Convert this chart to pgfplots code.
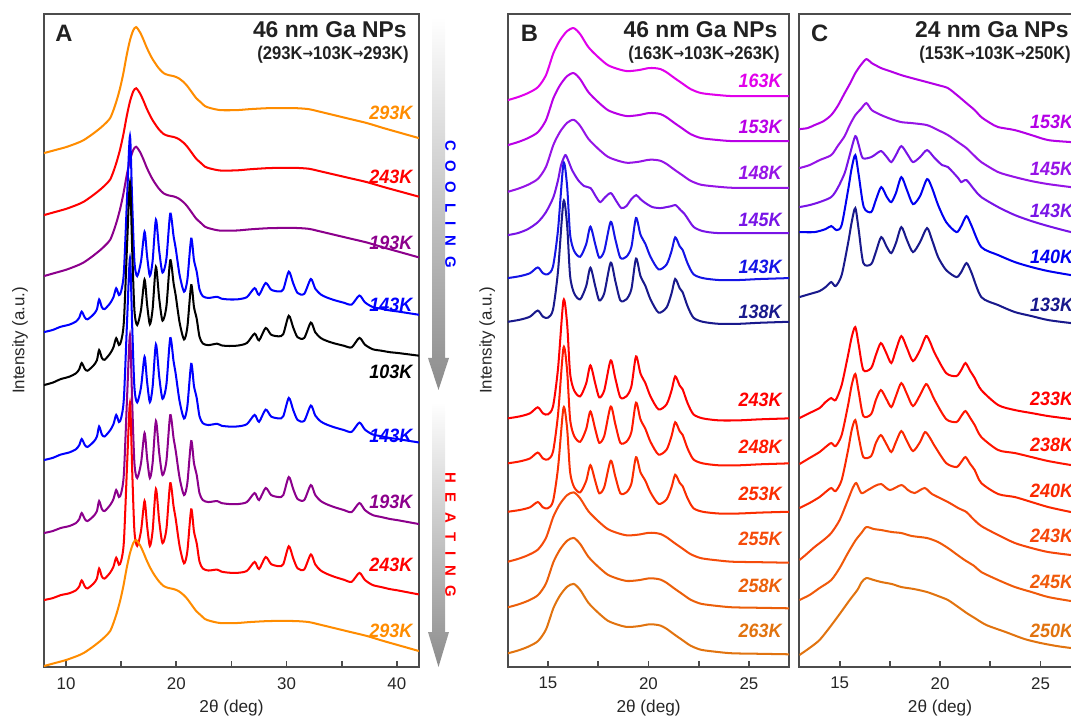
\documentclass[border=0pt]{standalone}
\usepackage{pgfplots}
\pgfplotsset{compat=1.18}
\usepackage{pgfplotstable}
\usepackage{fontspec}
\setmainfont{Liberation Sans}
\newfontfamily\djv{DejaVu Sans}

% colours
\definecolor{aOr}{RGB}{255,140,0}
\definecolor{aRd}{RGB}{255,0,0}
\definecolor{aPu}{RGB}{140,0,140}
\definecolor{aBl}{RGB}{0,0,255}
\definecolor{b163}{RGB}{225,0,235}
\definecolor{b153}{RGB}{185,0,230}
\definecolor{b148}{RGB}{150,20,230}
\definecolor{b145}{RGB}{120,20,230}
\definecolor{b143}{RGB}{20,20,230}
\definecolor{b138}{RGB}{25,25,140}
\definecolor{b243}{RGB}{255,0,0}
\definecolor{b248}{RGB}{255,25,0}
\definecolor{b253}{RGB}{250,45,0}
\definecolor{b255}{RGB}{245,75,10}
\definecolor{b258}{RGB}{235,95,10}
\definecolor{b263}{RGB}{225,115,15}
\definecolor{c153}{RGB}{180,0,230}
\definecolor{c145}{RGB}{150,20,230}
\definecolor{c143}{RGB}{120,20,230}
\definecolor{c140}{RGB}{0,0,240}
\definecolor{c133}{RGB}{25,25,140}
\definecolor{c233}{RGB}{255,0,0}
\definecolor{c238}{RGB}{255,20,0}
\definecolor{c240}{RGB}{250,40,0}
\definecolor{c243}{RGB}{245,70,10}
\definecolor{c245}{RGB}{240,90,10}
\definecolor{c250}{RGB}{225,115,15}

% panel A: liquid-like profile (height above left end, px)
\pgfplotstableread{
x h
8.0 0
9.0 3
10.0 6
11.0 10
11.6 13
12.4 19
13.1 25
13.6 30
14.0 35
14.3 43
14.6 53
14.9 65
15.2 80
15.5 98
15.8 113
16.1 123
16.36 126
16.7 121
17.0 114
17.3 106
17.6 99
17.9 93
18.4 85
18.85 80
19.3 78
19.75 77
20.2 75
20.67 71
21.0 67
21.4 61
21.8 55
22.2 51
22.6 47
23.1 45
24.0 43
25.5 43
26.7 44
28.5 45
30.7 45
32.0 44
32.8 42
34.3 38
35.8 34
37.3 30
38.8 25
40.4 20
42.0 15
}\liqA

% panel A: crystalline profile
\pgfplotstableread{
x h
8.0 0
8.8 2
9.5 5
10.3 7
10.9 10
11.2 14
11.42 20
11.7 14
11.95 12
12.5 17
12.8 22
13.0 32
13.25 24
13.5 22
14.0 28
14.3 34
14.55 43
14.8 36
15.0 40
15.25 60
15.55 140
15.8 198
16.0 130
16.2 70
16.45 55
16.8 70
17.12 100
17.35 75
17.6 55
17.85 70
18.15 112
18.45 80
18.75 58
19.1 72
19.45 118
19.75 95
19.95 82
20.3 55
20.7 38
21.0 50
21.35 92
21.6 70
21.85 58
22.1 40
22.4 33
22.9 31
23.7 32
24.1 30
24.8 29
25.6 29
26.4 31
27.1 40
27.5 33
28.1 45
28.6 38
29.3 36
29.7 38
30.2 56
30.6 44
31.0 34
31.6 33
32.2 48
32.6 38
33.1 32
33.6 29
34.3 26
35.2 23
35.9 21
36.6 30
37.1 23
37.8 18
38.6 16
39.4 14
40.0 13
41.0 11
42.0 9
}\crA

% panel B: liquid-like profile
\pgfplotstableread{
x h
13.0 0
13.5 3
14.0 7
14.5 13
14.9 25
15.27 47
15.6 60
15.95 69
16.28 72
16.6 66
17.01 53
17.5 43
17.98 35
18.5 31
18.95 29
19.5 30
20.0 32
20.31 32
20.6 31
20.89 28
21.3 22
21.66 17
22.1 11
22.63 7
23.5 5
24.2 4
25.5 4
27.0 4
}\liqB

% panel B: crystalline profile
\pgfplotstableread{
x h
13.0 0
13.6 2
14.1 5
14.49 11
14.75 5
15.0 4
15.25 12
15.5 50
15.77 118
15.95 95
16.1 45
16.3 28
16.6 22
16.9 35
17.11 53
17.35 35
17.55 21
17.8 28
18.12 58
18.35 40
18.6 21
18.9 22
19.15 32
19.38 62
19.6 45
19.85 35
20.1 22
20.5 9
20.9 14
21.15 28
21.33 42
21.55 33
21.7 29
21.95 15
22.24 4
22.7 0
23.5 -2
24.5 -2
25.5 -1
27.0 0
}\crB

% panel B: 145K (pixel rows)
\pgfplotstableread{
x y
13.0 235
13.5 233
14.0 229
14.5 222
14.9 212
15.27 197
15.5 180
15.65 165
15.86 155
16.0 160
16.2 170
16.5 180
16.8 186
17.12 188
17.4 197
17.6 202
17.85 197
18.13 193
18.4 201
18.65 208
18.9 206
19.15 199
19.39 195
19.6 199
19.85 203
20.2 207
20.6 208
20.9 207
21.15 206
21.35 205
21.6 210
21.8 214
22.0 220
22.26 227
22.7 231
23.5 233
25.5 233
27.0 233
}\bA

% panel C curves (pixel rows)
\pgfplotstableread{
x y
13.0 129
13.4 128
13.75 125
14.2 121
14.58 115
14.9 106
15.25 93
15.5 84
15.78 73
16.05 65
16.33 59
16.6 63
17.07 68
17.5 71
18.07 75
18.6 78
19.35 82
19.9 85
20.39 88
20.9 96
21.31 103
21.72 110
22.05 117
22.5 123
22.89 127
23.72 130
24.55 135
25.38 140
26.52 142
27.0 143
}\cA
\pgfplotstableread{
x y
13.0 168
13.5 165
14.0 160
14.58 155
14.9 146
15.25 136
15.5 125
15.78 115
16.05 109
16.33 103
16.6 110
17.07 115
17.57 119
18.07 122
18.6 123
19.35 125
19.9 130
20.39 135
20.89 142
21.31 148
21.72 156
22.05 162
22.89 172
23.72 177
24.55 181
25.38 184
26.52 187
27.0 188
}\cB
\pgfplotstableread{
x y
13.0 207
13.5 205
14.0 202
14.58 197
14.9 188
15.25 173
15.5 155
15.78 136
15.95 145
16.15 158
16.57 157
16.8 154
17.07 151
17.35 157
17.57 162
17.8 155
18.07 146
18.4 155
18.65 162
19.0 157
19.35 150
19.73 158
20.1 165
20.39 167
20.9 178
21.05 182
21.31 180
21.72 190
22.05 197
22.89 207
23.72 215
24.55 221
25.38 226
26.52 232
27.0 233
}\cC
\pgfplotstableread{
x y
13.0 232
13.75 232
14.3 229
14.58 226
14.85 230
15.1 225
15.42 190
15.6 168
15.78 155
15.95 175
16.2 207
16.57 212
16.8 200
17.07 187
17.35 197
17.57 202
17.8 193
18.07 177
18.35 190
18.65 204
19.0 196
19.35 179
19.6 188
19.9 205
20.3 222
20.81 232
21.05 226
21.31 216
21.55 225
22.05 247
22.89 255
23.72 262
24.55 267
25.38 271
26.52 275
27.0 276
}\cD
\pgfplotstableread{
x y
13.0 297
13.5 294
14.0 291
14.3 287
14.58 282
14.8 286
15.1 275
15.42 243
15.6 222
15.78 208
15.95 230
16.18 263
16.57 264
16.8 252
17.07 237
17.35 247
17.57 253
17.8 243
18.07 227
18.35 240
18.65 252
19.0 242
19.35 228
19.6 240
19.9 257
20.3 270
20.81 277
21.05 272
21.31 263
21.55 272
22.05 297
22.89 305
23.72 312
24.55 316
25.38 320
26.52 323
27.0 324
}\cE
\pgfplotstableread{
x y
13.0 418
13.5 413
14.0 408
14.3 402
14.58 398
14.8 400
15.1 385
15.42 355
15.6 337
15.78 327
15.95 345
16.18 370
16.57 368
16.8 355
17.05 343
17.3 352
17.57 363
17.8 350
18.07 336
18.35 348
18.65 361
19.0 350
19.3 336
19.5 342
19.73 353
20.3 373
20.81 376
21.05 370
21.26 363
21.5 371
21.72 378
22.05 390
22.89 405
23.72 410
24.55 413
25.38 416
26.52 419
27.0 420
}\cF
\pgfplotstableread{
x y
13.0 464
13.5 458
14.0 452
14.3 447
14.58 443
14.8 446
15.1 435
15.42 405
15.6 385
15.78 374
15.95 392
16.18 416
16.57 414
16.8 400
17.05 390
17.3 398
17.57 407
17.8 396
18.07 383
18.35 394
18.65 406
19.0 395
19.3 384
19.5 390
19.73 400
20.3 419
20.81 422
21.05 416
21.26 411
21.5 418
21.72 425
22.05 437
22.89 450
23.72 453
24.55 457
25.38 461
26.52 465
27.0 466
}\cG
\pgfplotstableread{
x y
13.0 508
13.5 503
14.0 497
14.3 492
14.58 488
14.8 491
15.1 480
15.42 450
15.6 430
15.78 420
15.95 437
16.18 457
16.57 456
16.8 443
17.05 435
17.3 443
17.57 452
17.8 442
18.07 431
18.35 441
18.65 451
19.0 442
19.25 432
19.5 438
19.73 446
20.3 463
20.81 467
21.05 462
21.26 457
21.5 464
21.72 470
22.05 483
22.89 494
23.72 497
24.55 502
25.38 507
26.52 512
27.0 513
}\cH
\pgfplotstableread{
x y
13.0 560
13.3 555
13.75 547
14.2 540
14.58 533
15.0 520
15.41 500
15.65 488
15.83 483
16.08 493
16.4 490
16.75 486
17.07 484
17.5 490
18.07 485
18.4 490
18.73 493
19.23 488
19.6 494
20.39 502
20.9 508
21.31 512
21.6 518
22.05 526
22.89 535
23.72 543
24.55 548
25.38 552
26.52 555
27.0 556
}\cI
\pgfplotstableread{
x y
13.0 600
13.5 595
14.0 588
14.58 580
15.0 568
15.41 553
15.8 540
16.08 533
16.33 527
16.7 529
17.07 530
17.6 532
18.07 533
18.6 536
19.35 538
19.9 542
20.39 548
20.8 554
21.22 560
21.7 566
22.05 572
22.89 580
23.72 587
24.55 592
25.38 597
26.52 601
27.0 602
}\cJ
\pgfplotstableread{
x y
13.0 655
13.5 648
14.0 640
14.52 627
15.0 614
15.5 600
15.88 590
16.1 582
16.33 578
16.7 580
17.07 582
17.6 584
18.07 587
18.7 589
19.35 592
19.9 596
20.39 600
20.9 607
21.32 613
21.72 618
22.3 625
23.26 632
24.2 639
25.0 643
25.8 646
26.52 648
27.0 649
}\cK

% stacked profile: colour, table, left offset (px), scale, tilt, x0
\newcommand{\prof}[6]{\addplot[color=#1] table[x=x, y expr={#3-(#4)*\thisrow{h}-(#5)*(\thisrow{x}-#6)}] {#2};}
\newcommand{\raw}[2]{\addplot[color=#1] table[x=x, y=y] {#2};}
\newcommand{\tl}[4]{\node[anchor=base east, inner sep=0, text=#1, font=\bfseries\itshape\fontsize{11}{12}\selectfont, xscale=0.93] at (#2,#3) {#4};}
\newcommand{\sarr}{{\djv\fontsize{8}{8}\selectfont\raisebox{0.2ex}{→}}}

\pgfplotsset{panel/.style={
  anchor=south west, scale only axis, height=13.06cm,
  ymin=14, ymax=667, y dir=reverse, ytick=\empty,
  xtick pos=left, tick align=inside,
  major tick length=0.12cm, minor tick length=0.12cm,
  axis line style={black!70, line width=1.1pt},
  tick style={black!70, line width=1pt},
  ticklabel style={font=\fontsize{9.6}{10}\selectfont, text=black!85},
  xticklabel style={yshift=-0.08cm},
  /pgf/number format/assume math mode=true,
  every axis plot/.append style={line width=1.15pt, mark=none, smooth, tension=0.45},
}}

\begin{document}
\begin{tikzpicture}[x=0.02cm, y=0.02cm]
\path[use as bounding box] (0,0) rectangle (1071,720);
\clip (0,0) rectangle (1071,720);

% gradient arrows
\shade[top color=white, bottom color=black!45] (432,703) -- (445,703) -- (445,362) -- (449,362) -- (438.5,330) -- (428,362) -- (432,362) -- cycle;
\shade[top color=white, bottom color=black!45] (432,318) -- (445,318) -- (445,88) -- (449,88) -- (438.5,53) -- (428,88) -- (432,88) -- cycle;
\node[rotate=-90, inner sep=0, text=blue, font=\bfseries\fontsize{8.5}{9}\selectfont] at (450.5,516) {C\kern5.5pt O\kern5.5pt O\kern5.5pt L\kern5.5pt I\kern5.5pt N\kern5.5pt G};
\node[rotate=-90, inner sep=0, text=red, font=\bfseries\fontsize{8.5}{9}\selectfont] at (450.5,185) {H\kern5.5pt E\kern5.5pt A\kern5.5pt T\kern5.5pt I\kern5.5pt N\kern5.5pt G};

% panel A
\begin{axis}[panel, at={(0.88cm,1.06cm)}, width=7.5cm, xmin=8, xmax=42,
  xtick={10,20,30,40}, minor xtick={15,25,35}]
\prof{aOr}{\liqA}{153}{1}{0}{8}
\prof{aRd}{\liqA}{215}{1}{0.1}{8}
\prof{aPu}{\liqA}{276}{1.02}{0.1}{8}
\prof{aBl}{\crA}{332}{0.98}{0.25}{8}
\prof{black}{\crA}{385}{1}{0.6}{8}
\prof{aBl}{\crA}{460}{1.01}{0.25}{8}
\prof{aPu}{\crA}{533}{1}{0}{8}
\prof{aRd}{\crA}{600}{1}{-0.1}{8}
\prof{aOr}{\liqA}{666}{1}{0}{8}
\end{axis}

% panel B
\begin{axis}[panel, at={(10.158cm,1.06cm)}, width=5.628cm, xmin=13, xmax=27,
  xtick={15,20,25}, minor xtick={17.5,22.5}]
\prof{b163}{\liqB}{100}{1}{0}{13}
\prof{b153}{\liqB}{145}{1}{0}{13}
\prof{b148}{\liqB}{191.7}{1}{0}{13}
\raw{b145}{\bA}
\prof{b143}{\crB}{278}{0.97}{0}{13}
\prof{b138}{\crB}{321.7}{1.02}{0}{13}
\prof{b243}{\crB}{418.3}{1}{0}{13}
\prof{b248}{\crB}{463.3}{0.98}{0}{13}
\prof{b253}{\crB}{511.7}{0.88}{0}{13}
\prof{b255}{\liqB}{561.7}{0.98}{-0.35}{13}
\prof{b258}{\liqB}{607.3}{0.98}{-0.35}{13}
\prof{b263}{\liqB}{653.3}{0.98}{-0.35}{13}
\end{axis}

% panel C
\begin{axis}[panel, at={(15.992cm,1.06cm)}, width=5.628cm, xmin=13, xmax=27,
  xtick={15,20,25}, minor xtick={17.5,22.5}]
\raw{c153}{\cA}
\raw{c145}{\cB}
\raw{c143}{\cC}
\raw{c140}{\cD}
\raw{c133}{\cE}
\raw{c233}{\cF}
\raw{c238}{\cG}
\raw{c240}{\cH}
\raw{c243}{\cI}
\raw{c245}{\cJ}
\raw{c250}{\cK}
\end{axis}

% panel letters and titles
\begin{scope}[every node/.style={inner sep=0}]
\node[anchor=base west, font=\bfseries\fontsize{13.5}{14}\selectfont, text=black!87] at (55,678.3) {A};
\node[anchor=base west, font=\bfseries\fontsize{13.5}{14}\selectfont, text=black!87] at (520.4,678.3) {B};
\node[anchor=base west, font=\bfseries\fontsize{13.5}{14}\selectfont, text=black!87] at (810.7,678.3) {C};
\node[anchor=base east, font=\bfseries\fontsize{13}{14}\selectfont, text=black!87] at (407,682.3) {46 nm Ga NPs};
\node[anchor=base east, font=\bfseries\fontsize{13}{14}\selectfont, text=black!87] at (777.6,682.3) {46 nm Ga NPs};
\node[anchor=base east, font=\bfseries\fontsize{13}{14}\selectfont, text=black!87] at (1069,682.3) {24 nm Ga NPs};
\node[anchor=base east, font=\bfseries\fontsize{10.5}{12}\selectfont, text=black!87, xscale=0.9] at (409,660) {(293K\sarr103K\sarr293K)};
\node[anchor=base east, font=\bfseries\fontsize{10.5}{12}\selectfont, text=black!87, xscale=0.9] at (780,660) {(163K\sarr103K\sarr263K)};
\node[anchor=base east, font=\bfseries\fontsize{10.5}{12}\selectfont, text=black!87, xscale=0.9] at (1071,660) {(153K\sarr103K\sarr250K)};
% axis titles
\node[rotate=90, font=\fontsize{9.6}{10}\selectfont, text=black!85] at (20,379.5) {Intensity (a.u.)};
\node[rotate=90, font=\fontsize{9.6}{10}\selectfont, text=black!85] at (487.3,379.5) {Intensity (a.u.)};
\node[font=\fontsize{9.8}{10}\selectfont, text=black!85] at (231.5,12) {2θ (deg)};
\node[font=\fontsize{9.8}{10}\selectfont, text=black!85] at (648.6,12) {2θ (deg)};
\node[font=\fontsize{9.8}{10}\selectfont, text=black!85] at (940,12) {2θ (deg)};
\end{scope}

% temperature labels, panel A
\tl{aOr}{412.7}{600}{293K}
\tl{aRd}{412.7}{536}{243K}
\tl{aPu}{412.7}{470}{193K}
\tl{aBl}{412.7}{408}{143K}
\tl{black}{412.7}{341}{103K}
\tl{aBl}{412.7}{277}{143K}
\tl{aPu}{412.7}{211}{193K}
\tl{aRd}{412.7}{149}{243K}
\tl{aOr}{412.7}{83}{293K}
% panel B
\tl{b163}{782}{632}{163K}
\tl{b153}{782}{586.3}{153K}
\tl{b148}{782}{540}{148K}
\tl{b145}{782}{493}{145K}
\tl{b143}{782}{446.3}{143K}
\tl{b138}{782}{401.3}{138K}
\tl{b243}{782}{313}{243K}
\tl{b248}{782}{266.3}{248K}
\tl{b253}{782}{219.7}{253K}
\tl{b255}{782}{174.7}{255K}
\tl{b258}{782}{128}{258K}
\tl{b263}{782}{83}{263K}
% panel C
\tl{c153}{1073.4}{591.3}{153K}
\tl{c145}{1073.4}{544.7}{145K}
\tl{c143}{1073.4}{502.3}{143K}
\tl{c140}{1073.4}{456.3}{140K}
\tl{c133}{1073.4}{408}{133K}
\tl{c233}{1073.4}{314.7}{233K}
\tl{c238}{1073.4}{268}{238K}
\tl{c240}{1073.4}{222}{240K}
\tl{c243}{1073.4}{177}{243K}
\tl{c245}{1073.4}{131.3}{245K}
\tl{c250}{1073.4}{82.3}{250K}
\end{tikzpicture}
\end{document}
